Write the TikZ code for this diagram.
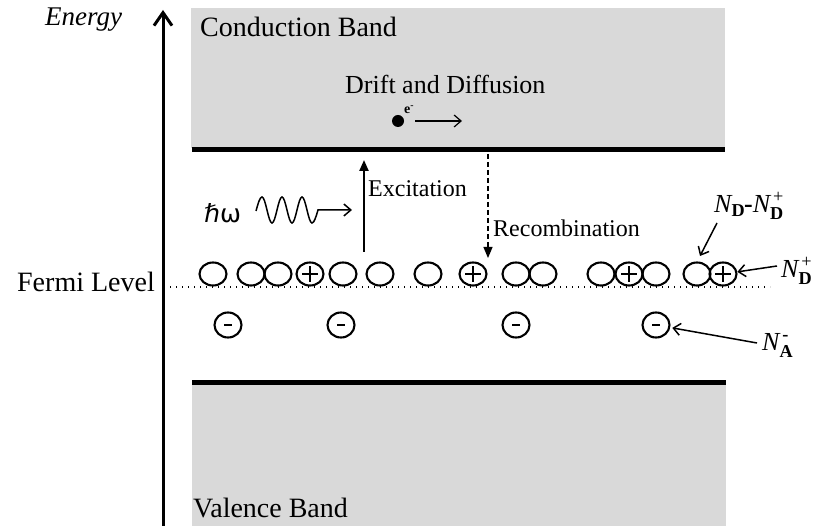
\documentclass[tikz,border=0pt]{standalone}
\usepackage{amsmath}
\usepackage{fontspec}
\setmainfont{Liberation Serif}
\newfontfamily\symfnt{DejaVu Sans}
\usetikzlibrary{arrows.meta,shapes.geometric}
\definecolor{bandgray}{gray}{0.85}
\begin{document}
\begin{tikzpicture}[x=1pt,y=-1pt,
  big/.style={font=\fontsize{28}{30}\selectfont, inner sep=0},
  mid/.style={font=\fontsize{26}{28}\selectfont, inner sep=0},
  small/.style={font=\fontsize{24}{26}\selectfont, inner sep=0},
  nlab/.style={inner sep=0, font=\fontsize{26}{28}\selectfont, anchor=base west},
  donor/.style={ellipse, draw, line width=2.1, minimum width=27, minimum height=23, inner sep=0},
  ionized/.style={donor, path picture={\draw[line width=1.6]
      ([xshift=-8pt]path picture bounding box.center) -- ([xshift=8pt]path picture bounding box.center)
      ([yshift=-8pt]path picture bounding box.center) -- ([yshift=8pt]path picture bounding box.center);}},
  acceptor/.style={ellipse, draw, line width=2.1, minimum width=27, minimum height=25, inner sep=0,
      path picture={\draw[line width=2.8]
      ([xshift=-4pt]path picture bounding box.center) -- ([xshift=4pt]path picture bounding box.center);}},
  barb/.style={-{Straight Barb[length=7pt,width=12pt]}, line width=1.5},
  tri/.style={-{Triangle[length=11pt,width=9pt]}},
  bandline/.style={line width=5},
]
\useasboundingbox (0,0) rectangle (820,526);
% bands
\fill[bandgray] (191,8) rectangle (725,148);
\fill[bandgray] (192,384) rectangle (726,526);
\draw[bandline] (192,149.5) -- (725,149.5);
\draw[bandline] (192,383) -- (726,383);
% energy axis
\coordinate (axb) at (163,526);
\coordinate (axt) at (163,10);
\draw[line width=3, -{Straight Barb[length=13pt,width=18pt]}] (axb) -- (axt);
\node[big, font=\fontsize{27}{30}\selectfont\itshape, anchor=base west] (energy) at (45,26) {Energy};
% labels
\node[big, anchor=base west] (cb) at (200,37) {Conduction Band};
\node[big, anchor=base west] (vb) at (193,518) {Valence Band};
\node[big, anchor=base east] (fermi) at (155,292) {Fermi Level};
\node[mid, anchor=base west] (drift) at (345,94) {Drift and Diffusion};
% fermi line
\coordinate (fl) at (170,287);
\coordinate (fr) at (770,287);
\draw[line width=1.2, dash pattern=on 1.3pt off 4.7pt] (fl) -- (fr);
% electron
\node[circle, fill, minimum size=12, inner sep=0] (el) at (398,121) {};
\node[inner sep=0, font=\fontsize{14}{15}\selectfont\bfseries, anchor=base west] (elab) at (404,114) {e\textsuperscript{-}};
\coordinate (elt) at (415,121);
\coordinate (elh) at (462,121);
\draw[barb, line width=1.2] (elt) -- (elh);
% photon
\node[inner sep=0, font=\fontsize{25}{28}\symfnt, anchor=base west] (hw) at (204,223) {ℏω};
\coordinate (w0) at (256,211);
\coordinate (wtip) at (352,210);
\draw[barb, line width=1.5] (w0) sin (262,197) cos (267,210) sin (272,223) cos (277,210)
   sin (282,197) cos (287,210) sin (292,223) cos (297,210)
   sin (302,197) cos (307,210) sin (312,223) cos (318,210) -- (wtip);
% excitation
\coordinate (exb) at (364,252);
\coordinate (ext) at (364,160);
\draw[tri, line width=2.2] (exb) -- (ext);
\node[small, anchor=base west] (exl) at (368,197) {Excitation};
% recombination
\coordinate (rct) at (488,154);
\coordinate (rch) at (488,258);
\draw[tri, line width=1.2, dash pattern=on 5pt off 3pt] (rct) -- (rch);
\node[small, anchor=base west] (rcl) at (493,237) {Recombination};
% donors
\node[donor] (d1) at (213,274) {};
\node[donor] (d2) at (251,274) {};
\node[donor] (d3) at (278,274) {};
\node[ionized] (d4) at (310,274) {};
\node[donor] (d5) at (343,274) {};
\node[donor] (d6) at (380,274) {};
\node[donor] (d7) at (428,274) {};
\node[ionized] (d8) at (473,274) {};
\node[donor] (d9) at (516,274) {};
\node[donor] (d10) at (543,274) {};
\node[donor] (d11) at (601,274) {};
\node[ionized] (d12) at (629,274) {};
\node[donor] (d13) at (656,274) {};
\node[donor] (d14) at (697,274) {};
\node[ionized] (d15) at (723,274) {};
% acceptors
\node[acceptor] (a1) at (228,325) {};
\node[acceptor] (a2) at (341,325) {};
\node[acceptor] (a3) at (516,325) {};
\node[acceptor] (a4) at (656,325) {};
% N labels
\node[nlab] (ndm) at (714,213)
  {$\textit{N}_{\textbf{D}}$\kern-1pt\textbf{-}$\textit{N}_{\textbf{D}}^{\,\text{+}}$};
\node[nlab] (ndp) at (781,278) {$\textit{N}_{\textbf{D}}^{\,\text{+}}$};
\node[nlab] (na) at (762,351) {$\textit{N}_{\textbf{A}}^{\,\textbf{-}}$};
\coordinate (ndmtail) at (717,223);
\coordinate (ndmtip) at (700,256);
\draw[barb] (ndmtail) -- (ndmtip);
\coordinate (ndptail) at (777,266);
\draw[barb] (ndptail) -- (d15);
\coordinate (natail) at (757,343);
\draw[barb, shorten >=2pt] (natail) -- (a4);
\end{tikzpicture}
\end{document}
